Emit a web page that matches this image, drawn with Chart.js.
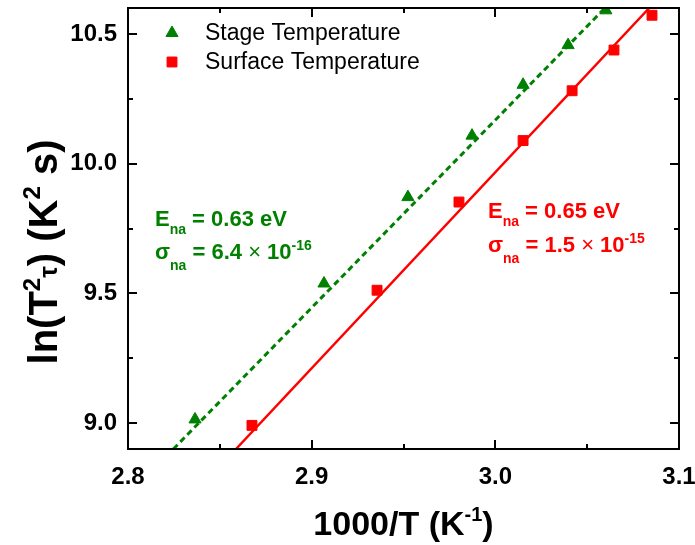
<!DOCTYPE html>
<html>
<head>
<meta charset="utf-8">
<script src="https://cdn.jsdelivr.net/npm/chart.js@4.4.0/dist/chart.umd.min.js"></script>
<style>
  html, body { margin: 0; padding: 0; background: #fff; }
  #wrap { width: 695px; height: 545px; }
</style>
</head>
<body>
<div id="wrap"><canvas id="arrhenius" width="695" height="545"></canvas></div>
<script>
const FONT = "Arial, 'Liberation Sans', sans-serif";
const GREEN = 'rgb(0, 128, 0)';
const RED = 'rgb(255, 0, 0)';

// measured points, x = 1000/T (1/K), y = ln(T^2 tau)
const stageX = [2.8365, 2.9067, 2.9524, 2.9873, 3.0151, 3.0396, 3.0602];
const stageY = [9.014, 9.538, 9.871, 10.108, 10.304, 10.457, 10.591];
const surfaceX = [2.8675, 2.9356, 2.9802, 3.0151, 3.0418, 3.0646, 3.0853];
const surfaceY = [8.991, 9.512, 9.852, 10.089, 10.281, 10.438, 10.572];

// linear fits, given by where they meet the bottom and top of the frame
const stageFitX = [2.8247, 3.0597];
const stageFitY = [8.9, 10.6];
const surfaceFitX = [2.8588, 3.0838];
const surfaceFitY = [8.9, 10.6];

const xMajor = [2.8, 2.9, 3.0, 3.1];
const xMinor = [2.85, 2.95, 3.05];
const yMajor = [9.0, 9.5, 10.0, 10.5];
const yMinor = [9.25, 9.75, 10.25];

const pts = (xs, ys) => xs.map((x, i) => ({ x: x, y: ys[i] }));

// draws a run of text pieces: [text, size, weight, dy]
drawRich = (ctx, x, y, parts, color, center) => {
  let w = 0;
  parts.forEach(p => {
    ctx.font = p[2] + ' ' + p[1] + 'px ' + FONT;
    w += ctx.measureText(p[0]).width;
  });
  let cx = center ? x - w / 2 : x;
  ctx.fillStyle = color;
  ctx.textAlign = 'left';
  ctx.textBaseline = 'alphabetic';
  parts.forEach(p => {
    ctx.font = p[2] + ' ' + p[1] + 'px ' + FONT;
    ctx.fillText(p[0], cx, y + (p[3] || 0));
    cx += ctx.measureText(p[0]).width;
  });
}

const frame = {
  id: 'frame',
  afterDraw(chart) {
    const { ctx, chartArea: a, scales: { x, y } } = chart;
    ctx.save();
    ctx.strokeStyle = '#000';
    ctx.lineWidth = 2;
    const line = (x1, y1, x2, y2) => {
      ctx.beginPath();
      ctx.moveTo(x1, y1);
      ctx.lineTo(x2, y2);
      ctx.stroke();
    };
    // inward ticks on all four sides
    xMajor.forEach(v => {
      const px = Math.round(x.getPixelForValue(v));
      line(px, a.bottom, px, a.bottom - 9);
      line(px, a.top, px, a.top + 9);
    });
    xMinor.forEach(v => {
      const px = Math.round(x.getPixelForValue(v));
      line(px, a.bottom, px, a.bottom - 5);
      line(px, a.top, px, a.top + 5);
    });
    yMajor.forEach(v => {
      const py = Math.round(y.getPixelForValue(v));
      line(a.left, py, a.left + 9, py);
      line(a.right, py, a.right - 9, py);
    });
    yMinor.forEach(v => {
      const py = Math.round(y.getPixelForValue(v));
      line(a.left, py, a.left + 5, py);
      line(a.right, py, a.right - 5, py);
    });
    ctx.strokeRect(a.left, a.top, a.right - a.left, a.bottom - a.top);

    // legend
    const sets = chart.data.datasets;
    [0, 1].forEach((i, row) => {
      const ds = sets[i];
      const ly = 33 + row * 29;
      ctx.fillStyle = ds.backgroundColor;
      ctx.strokeStyle = ds.borderColor;
      ctx.lineWidth = 1;
      Chart.helpers.drawPoint(ctx, { pointStyle: ds.pointStyle, radius: 7, rotation: 0, borderWidth: 1 }, 172, ly);
      ctx.fillStyle = '#000';
      ctx.font = '23px ' + FONT;
      ctx.textBaseline = 'middle';
      ctx.textAlign = 'left';
      ctx.fillText(ds.label, 205, ly + 1);
    });

    // activation energy and capture cross section of each fit
    drawRich(ctx, 155, 226, [['E', 22, 'bold'], ['na', 14, 'bold', 8], [' = 0.63 eV', 22, 'bold']], GREEN);
    drawRich(ctx, 155, 259, [['σ', 22, 'bold'], ['na', 14, 'bold', 11], [' = 6.4 ', 22, 'bold'], ['×', 22, 'normal'], [' 10', 22, 'bold'], ['-16', 14, 'bold', -9]], GREEN);
    drawRich(ctx, 488, 218, [['E', 22, 'bold'], ['na', 14, 'bold', 8], [' = 0.65 eV', 22, 'bold']], RED);
    drawRich(ctx, 488, 252, [['σ', 22, 'bold'], ['na', 14, 'bold', 11], [' = 1.5 ', 22, 'bold'], ['×', 22, 'normal'], [' 10', 22, 'bold'], ['-15', 14, 'bold', -9]], RED);

    // axis titles
    drawRich(ctx, (a.left + a.right) / 2, 535, [['1000/T (K', 34, 'bold'], ['-1', 20, 'bold', -14], [')', 34, 'bold']], '#000', true);
    ctx.save();
    ctx.translate(57, 252);
    ctx.rotate(-Math.PI / 2);
    drawRich(ctx, 0, 0, [['ln(T', 40, 'bold'], ['2', 24, 'bold', -17], ['τ', 26, 'bold'], [') (K', 40, 'bold'], ['2', 24, 'bold', -17], [' s)', 40, 'bold']], '#000', true);
    ctx.restore();
    ctx.restore();
  }
};

const tickFont = { family: FONT, size: 24, weight: 'bold' };

new Chart(document.getElementById('arrhenius'), {
  type: 'scatter',
  data: {
    datasets: [
      {
        label: 'Stage Temperature',
        data: pts(stageX, stageY),
        pointStyle: 'triangle',
        pointRadius: 7,
        backgroundColor: GREEN,
        borderColor: GREEN,
        clip: 0
      },
      {
        label: 'Surface Temperature',
        data: pts(surfaceX, surfaceY),
        pointStyle: 'rect',
        pointRadius: 7,
        backgroundColor: RED,
        borderColor: RED,
        clip: 0
      },
      {
        label: 'Stage fit',
        data: pts(stageFitX, stageFitY),
        showLine: true,
        borderColor: GREEN,
        borderWidth: 3,
        borderDash: [6, 4],
        pointRadius: 0,
        clip: 0
      },
      {
        label: 'Surface fit',
        data: pts(surfaceFitX, surfaceFitY),
        showLine: true,
        borderColor: RED,
        borderWidth: 2.5,
        pointRadius: 0,
        clip: 0
      }
    ]
  },
  options: {
    responsive: false,
    animation: false,
    devicePixelRatio: 1,
    layout: { padding: { top: 4, right: 16, left: 0, bottom: 0 } },
    plugins: {
      legend: { display: false },
      tooltip: { enabled: false }
    },
    scales: {
      x: {
        type: 'linear',
        min: 2.8,
        max: 3.1,
        grid: { display: false, drawTicks: false },
        border: { display: false },
        afterBuildTicks: s => { s.ticks = xMajor.map(v => ({ value: v })); },
        afterFit: s => { s.height = 96; s.paddingLeft = 0; s.paddingRight = 0; },
        ticks: {
          color: '#000',
          font: tickFont,
          padding: 14,
          maxRotation: 0,
          autoSkip: false,
          callback: v => v.toFixed(1)
        }
      },
      y: {
        type: 'linear',
        min: 8.9,
        max: 10.6,
        grid: { display: false, drawTicks: false },
        border: { display: false },
        afterBuildTicks: s => { s.ticks = yMajor.map(v => ({ value: v })); },
        afterFit: s => { s.width = 128; s.paddingTop = 0; s.paddingBottom = 0; },
        ticks: {
          color: '#000',
          font: tickFont,
          padding: 11,
          autoSkip: false,
          callback: v => v.toFixed(1)
        }
      }
    }
  },
  plugins: [frame]
});
</script>
</body>
</html>
